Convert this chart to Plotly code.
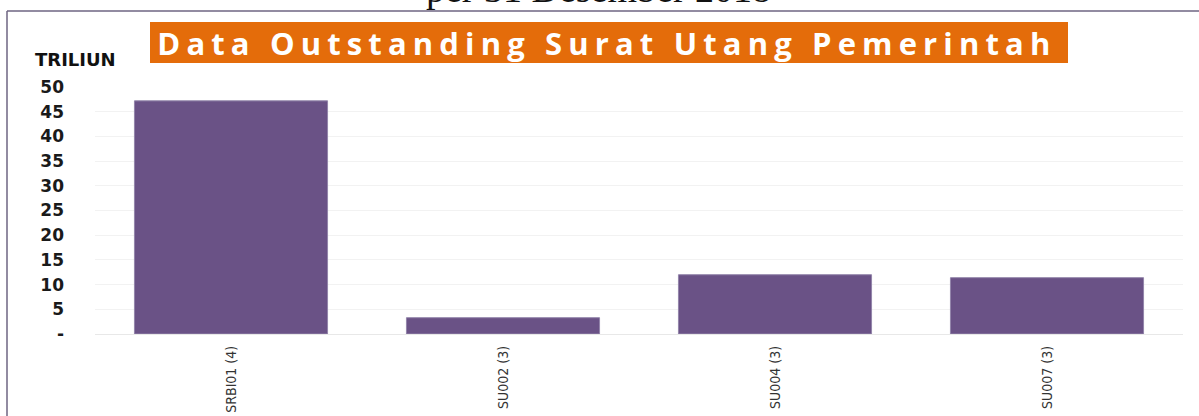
import plotly.graph_objects as go

# ---- data ----
categories = ["SRBI01 (4)", "SU002 (3)", "SU004 (3)", "SU007 (3)"]
values = [47.2, 3.3, 12.0, 11.4]
y_tickvals = [0, 5, 10, 15, 20, 25, 30, 35, 40, 45, 50]
y_ticktext = ["-", "5", "10", "15", "20", "25", "30", "35", "40", "45", "50"]
title_text = "Data Outstanding Surat Utang Pemerintah"
unit_text = "TRILIUN"
top_text = "per 31 Desember 2018"

# ---- layout geometry (pixels) ----
W, H = 1199, 416
L, R, T, B = 95, 16, 87, 82
PW, PH = W - L - R, H - T - B


def xp(px):
    return (px - L) / PW


def yp(py):
    return (H - B - py) / PH


fig = go.Figure()
fig.add_trace(go.Bar(
    x=categories, y=values,
    marker=dict(color="#6A5286", line=dict(color="#9385AA", width=1)),
    width=0.71,
    hoverinfo="x+y",
))

shapes = [
    # orange title box
    dict(type="rect", xref="paper", yref="paper",
         x0=xp(150), x1=xp(1068), y0=yp(63), y1=yp(22),
         fillcolor="#E46C0A", line=dict(width=0), layer="above"),
    # page frame lines
    dict(type="line", xref="paper", yref="paper",
         x0=xp(7), x1=xp(1199), y0=yp(11), y1=yp(11),
         line=dict(color="#6E6482", width=1.5)),
    dict(type="line", xref="paper", yref="paper",
         x0=xp(7), x1=xp(7), y0=yp(11), y1=yp(416),
         line=dict(color="#6E6482", width=1.5)),
]

annotations = [
    dict(text=title_text, xref="paper", yref="paper",
         x=xp(607), y=yp(43), xanchor="center", yanchor="middle",
         showarrow=False,
         font=dict(family="Open Sans, DejaVu Sans, sans-serif", size=31,
                   color="white", weight="bold")),
    dict(text=unit_text, xref="paper", yref="paper",
         x=xp(33), y=yp(59), xanchor="left", yanchor="middle",
         showarrow=False,
         font=dict(family="DejaVu Sans, sans-serif", size=18,
                   color="#111111", weight="bold")),
    dict(text=top_text, xref="paper", yref="paper",
         x=xp(598), y=yp(11.5), xanchor="center", yanchor="bottom",
         showarrow=False,
         font=dict(family="Liberation Serif, DejaVu Serif, serif", size=38,
                   color="#111111")),
]

fig.update_layout(
    width=W, height=H, autosize=False,
    margin=dict(l=L, r=R, t=T, b=B, pad=0, autoexpand=False),
    paper_bgcolor="white", plot_bgcolor="white",
    showlegend=False,
    bargap=0.29,
    shapes=shapes,
    annotations=annotations,
    xaxis=dict(
        automargin=False,
        tickangle=-90,
        tickfont=dict(family="DejaVu Sans Condensed, Liberation Sans Narrow, sans-serif",
                      size=14, color="#333333"),
        showgrid=False, showline=False, ticks="",
        ticklabelstandoff=8,
    ),
    yaxis=dict(
        automargin=False,
        range=[0, 50],
        tickvals=y_tickvals, ticktext=y_ticktext,
        tickfont=dict(family="DejaVu Sans, sans-serif", size=17,
                      color="#1a1a1a", weight="bold"),
        showgrid=True, gridcolor="#F2F2F2", gridwidth=1,
        zeroline=True, zerolinecolor="#E8E8E8", zerolinewidth=1,
        showline=False, ticks="",
        ticklabelstandoff=30,
    ),
)

post_js = """
document.body.style.margin = '0';
document.body.style.padding = '0';
document.documentElement.style.overflow = 'hidden';
var gd = document.getElementById('{plot_id}');
var target = 893;
gd.querySelectorAll('text.annotation-text').forEach(function(t){
  if (t.textContent.indexOf('Data Outstanding') === 0) {
    var len = t.getComputedTextLength();
    var n = t.textContent.length;
    var sp = (target - len) / (n - 1);
    t.style.letterSpacing = sp + 'px';
  }
});
"""

fig.write_html("out.html", post_script=post_js,
               config={"displayModeBar": False})
